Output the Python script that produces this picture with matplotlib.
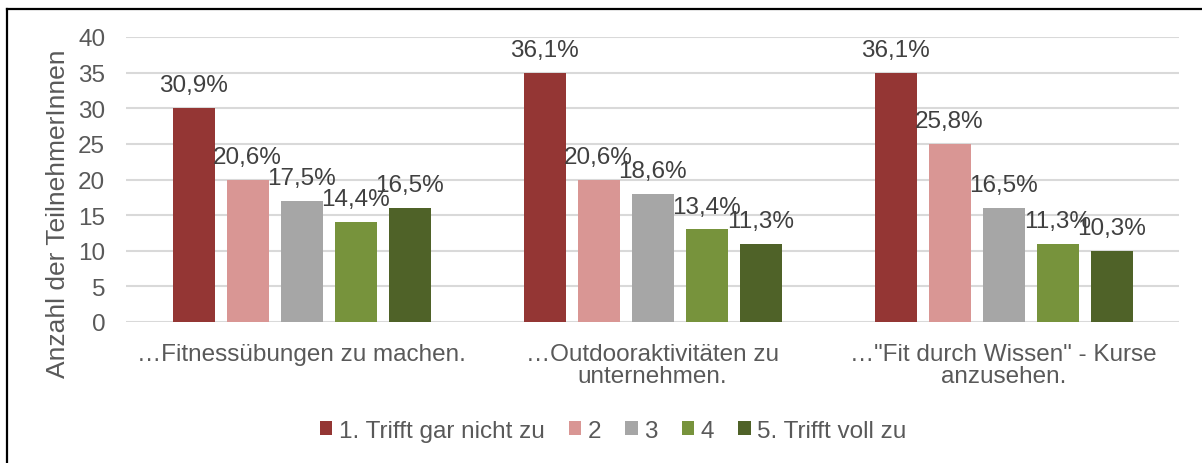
import matplotlib
matplotlib.use("Agg")
import matplotlib.pyplot as plt
from matplotlib.lines import Line2D
import numpy as np

plt.rcParams["font.family"] = ["Liberation Sans", "DejaVu Sans"]

categories = [
    "…Fitnessübungen zu machen.",
    "…Outdooraktivitäten zu\nunternehmen.",
    "…\"Fit durch Wissen\" - Kurse\nanzusehen.",
]
series_names = ["1. Trifft gar nicht zu", "2", "3", "4", "5. Trifft voll zu"]
counts = [
    [30, 35, 35],
    [20, 20, 25],
    [17, 18, 16],
    [14, 13, 11],
    [16, 11, 10],
]
percent_labels = [
    ["30,9%", "36,1%", "36,1%"],
    ["20,6%", "20,6%", "25,8%"],
    ["17,5%", "18,6%", "16,5%"],
    ["14,4%", "13,4%", "11,3%"],
    ["16,5%", "11,3%", "10,3%"],
]
colors = ["#943634", "#D99694", "#A6A6A6", "#77933C", "#4F6228"]

W, H = 1202, 464
fig = plt.figure(figsize=(W / 100, H / 100), dpi=100)
ax = fig.add_axes([126 / W, 1 - 323 / H, (1179 - 126) / W, (323 - 38) / H])

x = np.arange(len(categories))
pitch = 54 / 351
width = 42 / 351
for i, (name, vals, labs, c) in enumerate(zip(series_names, counts, percent_labels, colors)):
    pos = x + (i - 2) * pitch
    ax.bar(pos, vals, width=width, color=c, label=name, zorder=3)
    for px, v, lab in zip(pos, vals, labs):
        ax.annotate(lab, (px, v), xytext=(0, 8.5), textcoords="offset points",
                    ha="center", va="bottom", fontsize=17.5, color="#404040", zorder=4)

ax.set_xlim(-0.5, 2.5)
ax.set_ylim(0, 40)
ax.set_yticks(range(0, 41, 5))
ax.set_xticks(x)
ax.set_xticklabels(categories, linespacing=1.0)
ax.tick_params(axis="both", length=0, labelsize=17.5, labelcolor="#595959")
ax.tick_params(axis="y", pad=15)
ax.tick_params(axis="x", pad=15)
ax.grid(axis="y", color="#D9D9D9", linewidth=1.5, zorder=0)
for s in ax.spines.values():
    s.set_visible(False)

fig.text(58 / W, 1 - 214 / H, "Anzahl der TeilnehmerInnen", rotation=90,
         ha="center", va="center", fontsize=19, color="#595959")

fig.legend(loc="center", bbox_to_anchor=(613 / W, 1 - 432 / H), ncol=5, frameon=False,
           fontsize=17.5, labelcolor="#595959", handlelength=0.52, handleheight=0.52,
           handletextpad=0.25, columnspacing=1.0)

# outer chart border (top and left visible)
fig.add_artist(Line2D([7 / W, 1], [1 - 10 / H, 1 - 10 / H], color="black", linewidth=1.6,
                      transform=fig.transFigure))
fig.add_artist(Line2D([7 / W, 7 / W], [0, 1 - 10 / H], color="black", linewidth=1.6,
                      transform=fig.transFigure))

fig.savefig("out.png", dpi=100, facecolor="white")
